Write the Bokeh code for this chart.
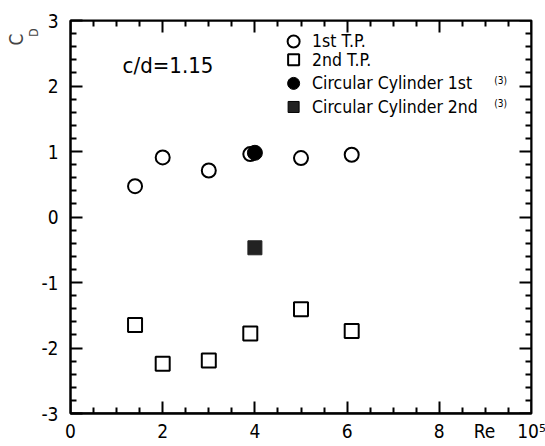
import numpy as np
from bokeh.plotting import figure
from bokeh.models import (Range1d, LinearAxis, FixedTicker, Label, Title,
                          CustomJSTickFormatter)
from bokeh.embed import file_html
from bokeh.resources import INLINE

# ---- data ----
re_tp = [1.4, 2.0, 3.0, 3.9, 5.0, 6.1]
cd_1st_tp = [0.47, 0.91, 0.71, 0.96, 0.90, 0.95]
cd_2nd_tp = [-1.65, -2.24, -2.19, -1.78, -1.41, -1.74]
re_cyl = [4.0]
cd_cyl_1st = [0.98]
cd_cyl_2nd = [-0.47]
legend_labels = ["1st T.P.", "2nd T.P.", "Circular Cylinder 1st", "Circular Cylinder 2nd"]
x_major = [0, 2, 4, 6, 8, 10]
y_major = [-3, -2, -1, 0, 1, 2, 3]
x_label_pos = 8.98          # where the "Re" label sits among the x tick labels

FONT = "'Liberation Sans Narrow', 'DejaVu Sans Condensed', 'Roboto Condensed', Roboto, sans-serif"

X0, X1, Y0, Y1 = 0, 10, -3, 3
p = figure(width=545, height=446, x_range=Range1d(X0, X1), y_range=Range1d(Y0, Y1),
           output_backend="svg", toolbar_location=None,
           x_axis_type=None, y_axis_type=None,
           min_border_left=70, min_border_right=14, min_border_top=20, min_border_bottom=33)
p.grid.visible = False
p.background_fill_color = "white"
p.border_fill_color = "white"
p.outline_line_color = "black"
p.outline_line_width = 2

xfmt = CustomJSTickFormatter(code="""
if (Math.abs(tick-10) < 1e-6) return '10\u2075';
if (Math.abs(tick-%f) < 1e-6) return 'Re';
return tick.toFixed(0);""" % x_label_pos)
yfmt = CustomJSTickFormatter(code="return tick.toFixed(0);")
nofmt = CustomJSTickFormatter(code="return '';")

xM = [float(v) for v in x_major]
xm = [float(v) for v in np.arange(X0, X1 + 1e-9, 0.5) if v not in x_major]
yM = [float(v) for v in y_major]
ym = [round(float(v), 1) for v in np.arange(Y0, Y1 + 1e-9, 0.2) if abs(v - round(v)) > 1e-6]

MAJ, MIN, TW = 12, 6, 2

def style(ax):
    ax.axis_line_width = 2
    ax.axis_line_color = "black"
    ax.major_tick_line_width = TW
    ax.minor_tick_line_width = TW
    ax.major_tick_line_color = "black"
    ax.minor_tick_line_color = "black"
    ax.major_label_text_font = FONT
    ax.major_label_text_font_size = "19px"
    ax.major_label_text_color = "black"

bottom = LinearAxis(ticker=FixedTicker(ticks=x_major + [x_label_pos]), formatter=xfmt)
style(bottom)
bottom.major_tick_in = 0
bottom.major_tick_out = 0
bottom.minor_tick_in = 0
bottom.minor_tick_out = 0
bottom.major_label_standoff = 6
left = LinearAxis(ticker=FixedTicker(ticks=y_major, minor_ticks=ym), formatter=yfmt)
style(left)
left.major_tick_in = MAJ
left.major_tick_out = 0
left.minor_tick_in = MIN
left.minor_tick_out = 0
left.major_label_standoff = 12
p.add_layout(bottom, "below")
p.add_layout(left, "left")

# tick-only axes pinned on the other frame edges, ticks pointing into the frame
def edge_axis(ticks, minor, loc, panel):
    ax = LinearAxis(ticker=FixedTicker(ticks=ticks, minor_ticks=minor), formatter=nofmt,
                    fixed_location=loc)
    style(ax)
    ax.major_tick_in = 0
    ax.major_tick_out = MAJ
    ax.minor_tick_in = 0
    ax.minor_tick_out = MIN
    ax.major_label_standoff = 0
    p.add_layout(ax, panel)

edge_axis(xM, xm, Y1, "below")   # top edge
edge_axis(xM, xm, Y0, "above")   # bottom edge
edge_axis(yM, ym, X1, "left")    # right edge

# y-axis title C_D (C with subscript D)
p.add_layout(Title(text="D", align="right", offset=8, standoff=-4, text_font=FONT,
                   text_font_size="12px", text_font_style="normal"), "left")
p.add_layout(Title(text="C", align="right", offset=13, standoff=0, text_font=FONT,
                   text_font_size="19px", text_font_style="normal"), "left")

# ---- data markers ----
p.scatter(re_tp, cd_1st_tp, marker="circle", size=14, fill_color="white",
          line_color="black", line_width=2)
p.scatter(re_tp, cd_2nd_tp, marker="square", size=14, fill_color="white",
          line_color="black", line_width=2)
p.scatter(re_cyl, cd_cyl_1st, marker="circle", size=15, fill_color="black",
          line_color="black", line_width=1)
p.scatter(re_cyl, cd_cyl_2nd, marker="square", size=14, fill_color="#222222",
          line_color="#222222", line_width=1)

# ---- legend (drawn inside the frame) ----
leg_x = 4.84
leg_y = [2.68, 2.40, 2.04, 1.68]
leg_marker = ["circle", "square", "circle", "square"]
leg_fill = ["white", "white", "black", "#222222"]
leg_size = [12, 11, 12, 11]
for yy, mk, fc, sz in zip(leg_y, leg_marker, leg_fill, leg_size):
    p.scatter([leg_x], [yy], marker=mk, size=sz, fill_color=fc,
              line_color="black", line_width=2 if fc == "white" else 1)
for yy, txt in zip(leg_y, legend_labels):
    p.add_layout(Label(x=5.24, y=yy, text=txt, text_font=FONT, text_font_size="17.5px",
                       text_align="left", text_baseline="middle", text_color="black"))
for yy in leg_y[2:]:
    p.add_layout(Label(x=9.19, y=yy + 0.05, text="(3)", text_font=FONT, text_font_size="10px",
                       text_align="left", text_baseline="middle", text_color="black"))

# ---- annotation ----
p.add_layout(Label(x=1.13, y=2.31, text="c/d=1.15", text_font=FONT, text_font_size="22px",
                   text_align="left", text_baseline="middle", text_color="black"))

open("out.html", "w").write(file_html(p, INLINE))
